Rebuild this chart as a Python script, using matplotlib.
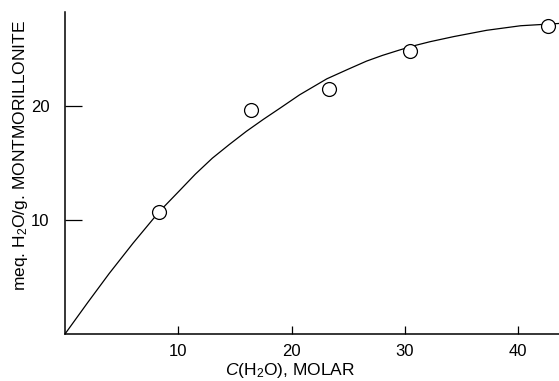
import matplotlib
matplotlib.use('Agg')
import matplotlib.pyplot as plt

plt.rcParams['font.family'] = ['Liberation Sans', 'DejaVu Sans']
plt.rcParams['mathtext.fontset'] = 'custom'
plt.rcParams['mathtext.rm'] = 'Liberation Sans'
plt.rcParams['mathtext.it'] = 'Liberation Sans:italic'

# measured points
conc = [8.3, 16.4, 23.3, 30.4, 42.6]
meq = [10.65, 19.6, 21.5, 24.75, 27.0]

# smooth curve
curve_x = [0, 2, 3.9, 6, 8.3, 10.1, 11.5, 13.0, 14.5, 16.0, 17.5, 19.0, 20.7,
           23.1, 25.0, 26.6, 28.0, 29.6, 31.0, 32.2, 34.3, 37.2, 40.2, 41.9, 43.6]
curve_y = [0, 2.75, 5.3, 7.95, 10.7, 12.55, 14.0, 15.4, 16.6, 17.75, 18.8, 19.8, 20.95,
           22.35, 23.2, 23.9, 24.4, 24.9, 25.3, 25.6, 26.05, 26.6, 27.0, 27.1, 27.2]

xticks = [10, 20, 30, 40]
yticks = [10, 20]

fig = plt.figure(figsize=(5.59, 3.81), dpi=100)
ax = fig.add_axes([0.1163, 0.1234, 0.884, 0.845])

ax.plot(curve_x, curve_y, color='black', linewidth=0.9)
ax.plot(conc, meq, 'o', markersize=10, markerfacecolor='white',
        markeredgecolor='black', markeredgewidth=0.9)

ax.set_xlim(0, 43.6)
ax.set_ylim(0, 28.2)
ax.set_xticks(xticks)
ax.set_yticks(yticks)
ax.spines['top'].set_visible(False)
ax.spines['right'].set_visible(False)
ax.spines['left'].set_linewidth(1.1)
ax.spines['bottom'].set_linewidth(1.1)
ax.tick_params(axis='x', direction='in', length=6, width=0.9, labelsize=12, pad=7)
ax.tick_params(axis='y', direction='in', length=12, width=0.9, labelsize=12, pad=11)

ax.set_xlabel(r'$\mathit{C}$(H$_2$O), MOLAR', fontsize=12.5)
ax.xaxis.set_label_coords(0.455, -0.084)
ax.set_ylabel(r'meq. H$_2$O/g. MONTMORILLONITE', fontsize=12.5)
ax.yaxis.set_label_coords(-0.071, 0.556)

fig.savefig('out.png', dpi=100)
